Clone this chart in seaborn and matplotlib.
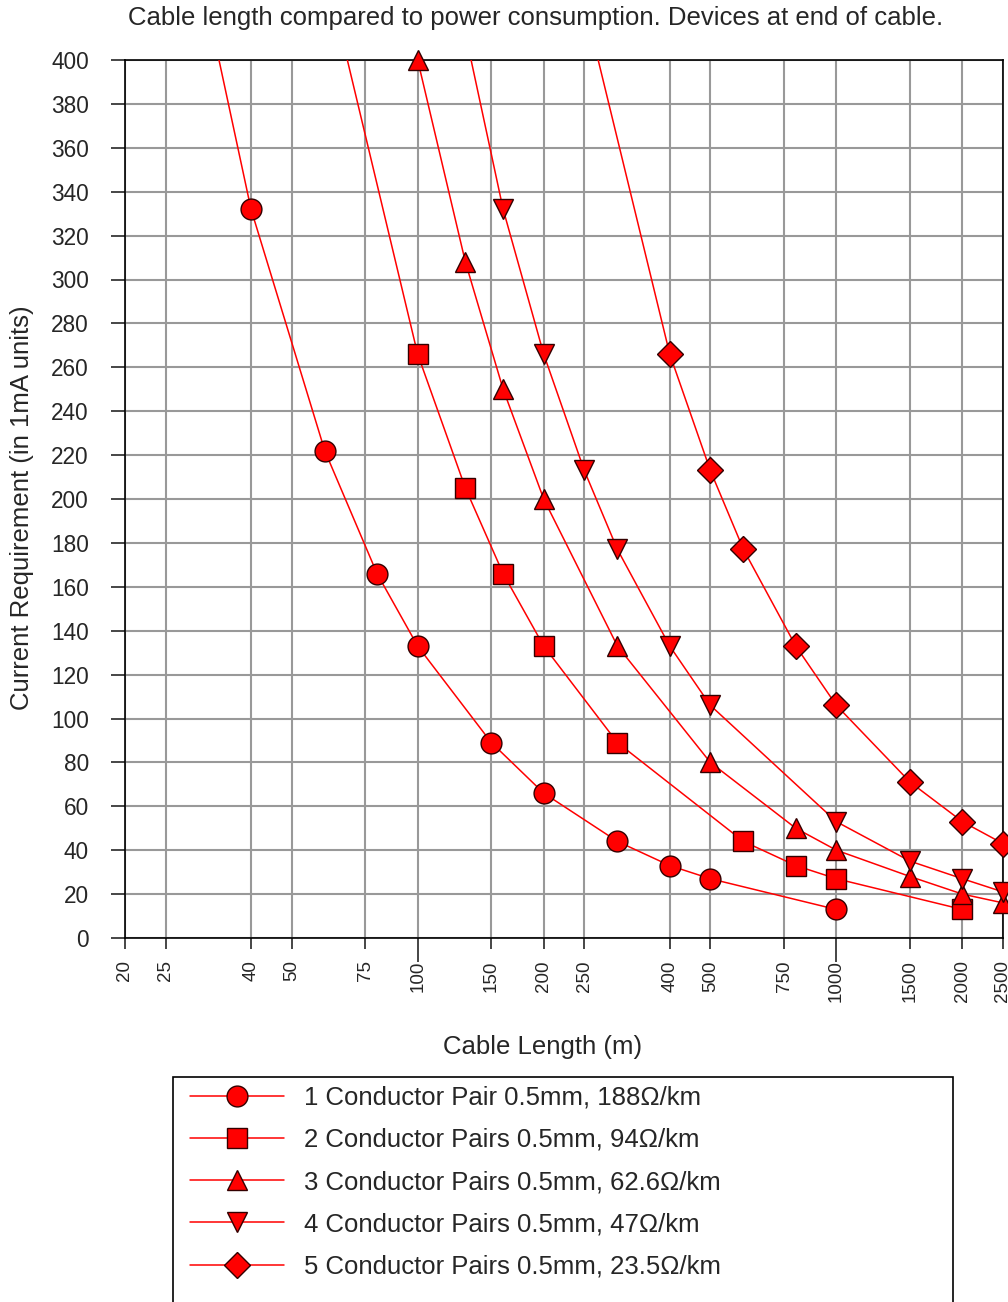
import numpy as np
import pandas as pd
import seaborn as sns
import matplotlib.pyplot as plt
from matplotlib.lines import Line2D
from matplotlib.patches import Rectangle

# dati (il primo punto di ogni serie sta sopra il limite di 400)
labels = ["1 Conductor Pair 0.5mm, 188Ω/km",
          "2 Conductor Pairs 0.5mm, 94Ω/km",
          "3 Conductor Pairs 0.5mm, 62.6Ω/km",
          "4 Conductor Pairs 0.5mm, 47Ω/km",
          "5 Conductor Pairs 0.5mm, 23.5Ω/km"]
markers = ["o", "s", "^", "v", "D"]

len_1 = [30, 40, 60, 80, 100, 150, 200, 300, 400, 500, 1000]
cur_1 = [443, 332, 222, 166, 133, 89, 66, 44, 33, 27, 13]
len_2 = [60, 100, 130, 160, 200, 300, 600, 800, 1000, 2000]
cur_2 = [443, 266, 205, 166, 133, 89, 44, 33, 27, 13]
len_3 = [75, 100, 130, 160, 200, 300, 500, 800, 1000, 1500, 2000, 2500]
cur_3 = [533, 400, 308, 250, 200, 133, 80, 50, 40, 28, 20, 16]
len_4 = [120, 160, 200, 250, 300, 400, 500, 1000, 1500, 2000, 2500]
cur_4 = [443, 332, 266, 213, 177, 133, 106, 53, 35, 27, 21]
len_5 = [250, 400, 500, 600, 800, 1000, 1500, 2000, 2500]
cur_5 = [426, 266, 213, 177, 133, 106, 71, 53, 43]

x_ticks = [20, 25, 40, 50, 75, 100, 150, 200, 250, 400, 500, 750, 1000, 1500, 2000, 2500]

lengths = [len_1, len_2, len_3, len_4, len_5]
currents = [cur_1, cur_2, cur_3, cur_4, cur_5]

df = pd.concat([pd.DataFrame({"length": l, "current": c, "series": lab})
                for l, c, lab in zip(lengths, currents, labels)], ignore_index=True)

sns.set_style("white")
plt.rcParams["font.family"] = ["Liberation Sans", "DejaVu Sans"]

fig = plt.figure(figsize=(10.08, 13.02), dpi=100)
ax = fig.add_axes([125/1008, 1 - 938/1302, 878/1008, 878/1302])

sns.lineplot(data=df, x="length", y="current", hue="series", palette=["red"] * 5,
             estimator=None, sort=False, legend=False, lw=1.1, ax=ax, zorder=3)

# marker solo per i punti dentro il grafico
for (lab, g), m in zip(df.groupby("series", sort=False), markers):
    g = g[g["current"] <= 400]
    ax.plot(g["length"], g["current"], ls="none", marker=m, ms=15 if m != "D" else 13,
            mfc="red", mec="#330000", mew=1.0, clip_on=False, zorder=4)

ax.set_xscale("log")
ax.set_xlim(20, 2500)
ax.set_ylim(0, 400)
ax.set_xticks(x_ticks)
ax.set_xticklabels([str(t) for t in x_ticks], rotation=90, fontsize=13.5)
ax.xaxis.set_minor_locator(plt.NullLocator())
ax.set_yticks(np.arange(0, 401, 20))
ax.tick_params(axis="y", labelsize=16.3, length=10, width=1.2, direction="out", left=True, pad=16)
ax.tick_params(axis="x", length=8, width=1.2, direction="out", bottom=True, pad=8)
for t, v in zip(ax.xaxis.get_major_ticks(), x_ticks):
    if v in (100, 1000):
        t.tick1line.set_markersize(17)

ax.grid(True, color="#999999", lw=1.5)
ax.set_axisbelow(True)
for s in ax.spines.values():
    s.set_color("black")
    s.set_linewidth(1.2)

ax.set_xlabel("")
ax.set_ylabel("")

fig.text(536/1008, 1 - 18/1302, "Cable length compared to power consumption. Devices at end of cable.",
         ha="center", va="center", fontsize=18.5)
fig.text(543/1008, 1 - 1047/1302, "Cable Length (m)", ha="center", va="center", fontsize=18.5)
fig.text(22/1008, 1 - 508/1302, "Current Requirement (in 1mA units)", ha="center", va="center",
         rotation=90, fontsize=18.5)

handles = [Line2D([], [], color="red", lw=1.1, marker=m, ms=15 if m != "D" else 13,
                  mfc="red", mec="#330000", mew=1.0) for m in markers]
fig.legend(handles, labels, loc="upper left", bbox_to_anchor=(182/1008, 1 - 1078/1302),
           frameon=False, fontsize=18.5, handlelength=3.66, handletextpad=0.78,
           labelspacing=0.71, borderaxespad=0, borderpad=0.3)
fig.patches.append(Rectangle((173/1008, -0.01), (953-173)/1008, (1302-1077)/1302 + 0.01,
                             transform=fig.transFigure, fill=False, ec="black", lw=1.2))

fig.savefig("out.png", dpi=100)
